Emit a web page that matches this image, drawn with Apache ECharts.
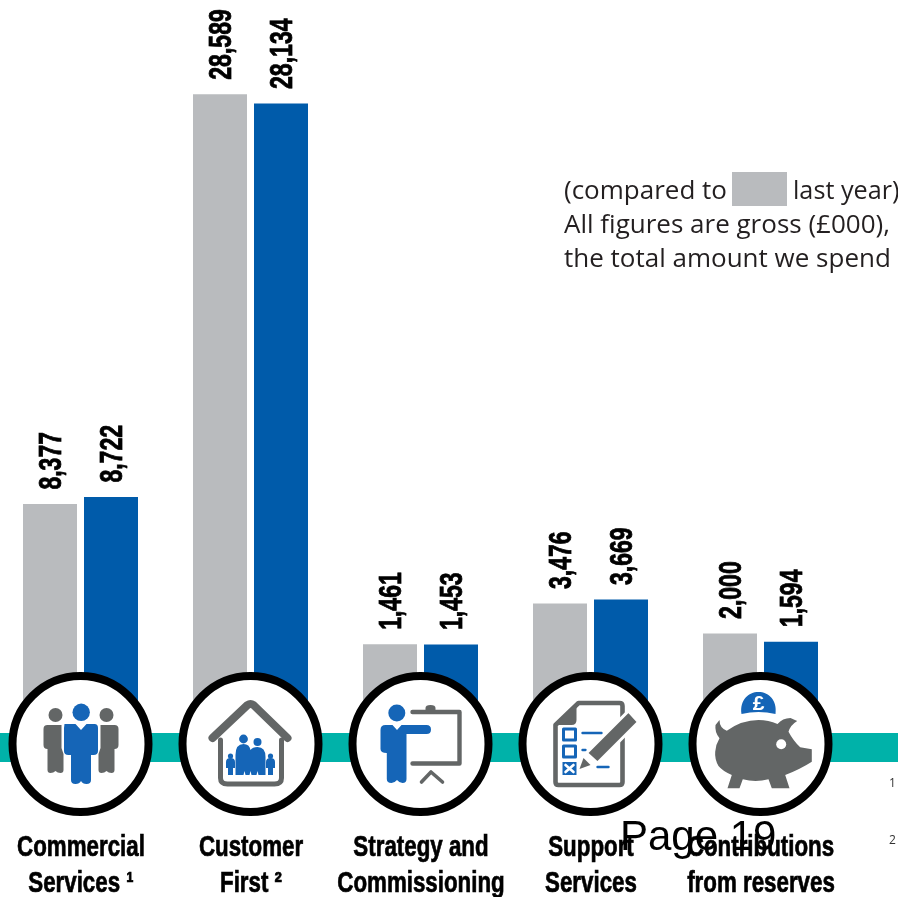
<!DOCTYPE html>
<html>
<head>
<meta charset="utf-8">
<style>html,body{margin:0;padding:0;background:#fff}#chart{width:898px;height:897px}</style>
<script src="https://cdn.jsdelivr.net/npm/echarts@6/dist/echarts.min.js"></script>
</head>
<body>
<div id="chart"></div>
<script>
// Gross spend by service area (£000)
const categories = ['Commercial\nServices ¹', 'Customer\nFirst ²', 'Strategy and\nCommissioning', 'Support\nServices', 'Contributions\nfrom reserves'];
const lastYear = [8377, 28589, 1461, 3476, 2000];
const thisYear = [8722, 28134, 1453, 3669, 1594];
const noteLines = ['(compared to', 'All figures are gross (£000),', 'the total amount we spend'];

const GREY_BAR = '#B9BBBE', BLUE_BAR = '#005BAA', TEAL = '#00B2A9';
const ICON_BLUE = '#1565B7', ICON_GREY = '#636666';
const HEAVY = '"Liberation Sans", sans-serif';
const NOTE_FONT = '"Open Sans", "Noto Sans", sans-serif';
const BAR_WIDTH = 54, BAR_GAP = 7;

const fill = (d, color) => ({ type: 'path', shape: { pathData: d }, style: { fill: color } });
const line = (d, color, w) => ({ type: 'path', shape: { pathData: d }, style: { fill: 'none', stroke: color, lineWidth: w, lineCap: 'round', lineJoin: 'round' } });
const dot = (cx, cy, r, color) => ({ type: 'circle', shape: { cx, cy, r }, style: { fill: color } });

// Medallion artwork, drawn around the centre of each circle
const icons = [
  [ // people
    dot(0.7, -31.7, 8.7, ICON_BLUE),
    dot(-25, -29, 7, ICON_GREY),
    dot(26, -29, 7, ICON_GREY),
    fill('M-16,-20 L-5,-20 L0.5,-14 L6,-20 L14,-20 Q17.5,-20 17.5,-16 L17.5,7 Q17.5,11 13,11 L10.5,11 L10.5,36 Q10.5,40 6,40 Q2,40 0.5,37 Q-1,40 -5,40 Q-9.5,40 -9.5,36 L-9.5,11 L-12,11 Q-16.5,11 -16.5,7 L-16.5,-16 Z', ICON_BLUE),
    fill('M-37,-15 Q-37,-19 -33,-19 L-19,-19 L-19,4 L-17,10 L-17,26 Q-17,29 -20,29 Q-23,29 -25,27 Q-27,29 -30,29 Q-33,29 -33,26 L-33,5 Q-37,5 -37,1 Z', ICON_GREY),
    fill('M38,-15 Q38,-19 34,-19 L20,-19 L20,4 L18,10 L18,26 Q18,29 21,29 Q24,29 26,27 Q28,29 31,29 Q34,29 34,26 L34,5 Q38,5 38,1 Z', ICON_GREY)
  ],
  [ // family at home
    line('M-38,-6 L-3,-39 Q0,-41 3,-39 L37,-6', ICON_GREY, 8),
    line('M-30,-4 L-30,34 Q-30,40 -23,40 L24,40 Q31,40 31,34 L31,-4', ICON_GREY, 5),
    dot(-7, -5, 4.4, ICON_BLUE),
    dot(7, -2, 4, ICON_BLUE),
    dot(-20, 12, 2.6, ICON_BLUE),
    dot(20, 12, 2.6, ICON_BLUE),
    fill('M-15,31 L-15,11 Q-15,0 -7,0 Q-1,0 0,6 Q2,3 7,3 Q15,3 15,13 L15,31 L8,31 L7,27 L6,31 L1,31 L0,27 L-1,31 L-5,31 L-6,27 L-7,31 Z', ICON_BLUE),
    fill('M-24.5,24 L-24.5,18 Q-24.5,14 -20,14 Q-15.5,14 -15.5,18 L-15.5,24 L-17.5,24 L-17.5,31 L-22.5,31 L-22.5,24 Z', ICON_BLUE),
    fill('M24.5,24 L24.5,18 Q24.5,14 20,14 Q15.5,14 15.5,18 L15.5,24 L17.5,24 L17.5,31 L22.5,31 L22.5,24 Z', ICON_BLUE)
  ],
  [ // presenter with board
    dot(-23.7, -31, 8.5, ICON_BLUE),
    fill('M-40,-14 Q-40,-19 -35,-19 L-28,-19 L-23.5,-14 L-19,-19 L6,-19 Q10.5,-19 10.5,-14.5 Q10.5,-10 6,-10 L-14,-10 L-14,35 Q-14,39 -18,39 Q-21,39 -23.5,36 Q-26,39 -29,39 Q-33.7,39 -33.7,35 L-33.7,9 Q-40,9 -40,5 Z', ICON_BLUE),
    line('M-8,-32 L39,-32 L39,19.5 L-8,19.5', ICON_GREY, 4.4),
    fill('M5,-33 L5,-36 Q5,-39 10,-39 Q15,-39 15,-36 L15,-33 Z', ICON_GREY),
    line('M1,38 L10.5,28 L22,38', ICON_GREY, 3.6)
  ],
  [ // checklist and pen
    line('M-12,-41 L29,-41 Q32,-41 32,-38 L32,38 Q32,41 29,41 L-32,41 Q-35,41 -35,38 L-35,-19 Z', ICON_GREY, 4.6),
    fill('M-14,-41 L-14,-24 Q-14,-19 -19,-19 L-35,-19 Z', ICON_GREY),
    line('M-27,-15 L-15,-15 L-15,-4 L-27,-4 Z', ICON_BLUE, 3),
    line('M-27,2 L-15,2 L-15,13 L-27,13 Z', ICON_BLUE, 3),
    { type: 'rect', shape: { x: -28, y: 18, width: 14, height: 13 }, style: { fill: ICON_BLUE } },
    line('M-25,21 L-17,28 M-17,21 L-25,28', '#ffffff', 2.6),
    line('M-8,-11 L11,-11', ICON_BLUE, 2.4),
    line('M-8,6 L-5,6', ICON_BLUE, 2.4),
    line('M7,23 L18,23', ICON_BLUE, 2.4),
    { type: 'path', shape: { pathData: 'M38,-33 L48,-22 L7,19 L-4,9 Z' }, style: { fill: ICON_GREY, stroke: '#ffffff', lineWidth: 3 } },
    fill('M-7,14 L0,21 L-11,25 Z', ICON_GREY)
  ],
  [ // piggy bank and pound coin
    fill('M-19,-30 C-21,-44 -12,-52 -2,-52 C8,-52 17,-44 15,-30 Q-2,-34 -19,-30 Z', ICON_BLUE),
    { type: 'text', style: { x: -2, y: -40, text: '£', fill: '#ffffff', font: 'bold 21px "Liberation Sans"', align: 'center', verticalAlign: 'middle' } },
    fill('M-33.7,-13.3 Q-18.7,-24 -2,-24 Q8,-24 17,-20 Q22,-26 30,-26 L36.7,-23 Q30,-19 28,-12.3 Q33,-3 39.7,3.3 L51.3,5.3 L51.3,17.7 Q40,25 24.7,31 L29,44.3 L11.3,44.3 L8,35.3 Q-5,38.5 -17.7,35.3 L-21,44.3 L-33,44.3 L-28.7,31 Q-38,27 -42,22 Q-46,15 -45.3,7.7 Q-45,1 -41,-5.7 Q-46,-12 -45,-19 L-41,-24 Q-41,-16 -33.7,-13.3 Z', ICON_GREY),
    dot(20.7, 0.3, 5, '#ffffff')
  ]
];

const RING_Y = 744;

// Condensed value label, read upwards from just above its bar
const valueLabels = (values, side) => ({
  type: 'custom', z: 5, silent: true, clip: false,
  data: values.map((v, i) => [i, v]),
  encode: { x: 0, y: 1 },
  renderItem: (params, api) => {
    const p = api.coord([api.value(0), api.value(1)]);
    return {
      type: 'text',
      x: p[0] + side * (BAR_WIDTH + BAR_GAP) / 2 + 2,
      y: p[1] - 14.5,
      rotation: Math.PI / 2,
      scaleX: 0.72,
      style: {
        text: api.value(1).toLocaleString('en-GB'),
        font: 'bold 32px ' + HEAVY,
        fill: '#000000',
        stroke: '#000000',
        lineWidth: 0.8,
        align: 'left',
        verticalAlign: 'middle'
      }
    };
  }
});

const chart = echarts.init(document.getElementById('chart'));
chart.setOption({
  animation: false,
  backgroundColor: '#ffffff',
  grid: { left: -4.5, width: 850, top: 65.6, height: 638.8, outerBoundsMode: 'none' },
  xAxis: {
    type: 'category',
    data: categories,
    axisLine: { show: false },
    axisTick: { show: false },
    axisLabel: { show: false }
  },
  yAxis: { type: 'value', show: false, min: -1500, max: 30000, startValue: -1500, splitLine: { show: false } },
  graphic: [
    { type: 'rect', z: 0, shape: { x: 0, y: 733, width: 898, height: 29 }, style: { fill: TEAL } },
    { type: 'rect', z: 0, shape: { x: 732, y: 172, width: 55, height: 34 }, style: { fill: GREY_BAR } },
    { type: 'text', z: 0, x: 564, y: 192, style: { text: noteLines[0], font: '26px ' + NOTE_FONT, fill: '#231F20', verticalAlign: 'middle' } },
    { type: 'text', z: 0, x: 793, y: 192, scaleX: 0.97, style: { text: 'last year)', font: '26px ' + NOTE_FONT, fill: '#231F20', verticalAlign: 'middle' } },
    { type: 'text', z: 0, x: 564, y: 226, style: { text: noteLines[1], font: '26px ' + NOTE_FONT, fill: '#231F20', verticalAlign: 'middle' } },
    { type: 'text', z: 0, x: 564, y: 260, style: { text: noteLines[2], font: '26px ' + NOTE_FONT, fill: '#231F20', verticalAlign: 'middle' } },
    { type: 'text', z: 0, x: 889, y: 784, style: { text: '1', font: '12px ' + NOTE_FONT, fill: '#333333', verticalAlign: 'middle' } },
    { type: 'text', z: 0, x: 889, y: 841, style: { text: '2', font: '12px ' + NOTE_FONT, fill: '#333333', verticalAlign: 'middle' } },
    { type: 'text', z: 100, x: 620, y: 838, style: { text: 'Page 19', font: '42px "Liberation Sans", sans-serif', fill: '#000000', verticalAlign: 'middle' } }
  ],
  series: [
    { name: 'Last year', type: 'bar', data: lastYear, barWidth: BAR_WIDTH, barGap: (BAR_GAP / BAR_WIDTH * 100) + '%', itemStyle: { color: GREY_BAR } },
    { name: 'This year', type: 'bar', data: thisYear, barWidth: BAR_WIDTH, itemStyle: { color: BLUE_BAR } },
    valueLabels(lastYear, -1),
    valueLabels(thisYear, 1),
    {
      name: 'Medallions', type: 'custom', z: 10, silent: true, clip: false,
      data: categories.map((name, i) => [i]),
      encode: { x: 0 },
      renderItem: (params, api) => {
        const cx = api.coord([api.value(0), 0])[0];
        return {
          type: 'group',
          x: cx, y: RING_Y,
          children: [
            { type: 'circle', shape: { cx: 0, cy: 0, r: 68 }, style: { fill: '#ffffff', stroke: '#000000', lineWidth: 8 } },
            ...icons[params.dataIndex],
            {
              type: 'text', x: 0.5, y: 86, scaleX: 0.77,
              style: {
                text: categories[params.dataIndex],
                font: 'bold 29px ' + HEAVY,
                lineHeight: 36,
                fill: '#000000',
                stroke: '#000000',
                lineWidth: 0.7,
                align: 'center',
                verticalAlign: 'top'
              }
            }
          ]
        };
      }
    }
  ]
});
</script>
</body>
</html>
